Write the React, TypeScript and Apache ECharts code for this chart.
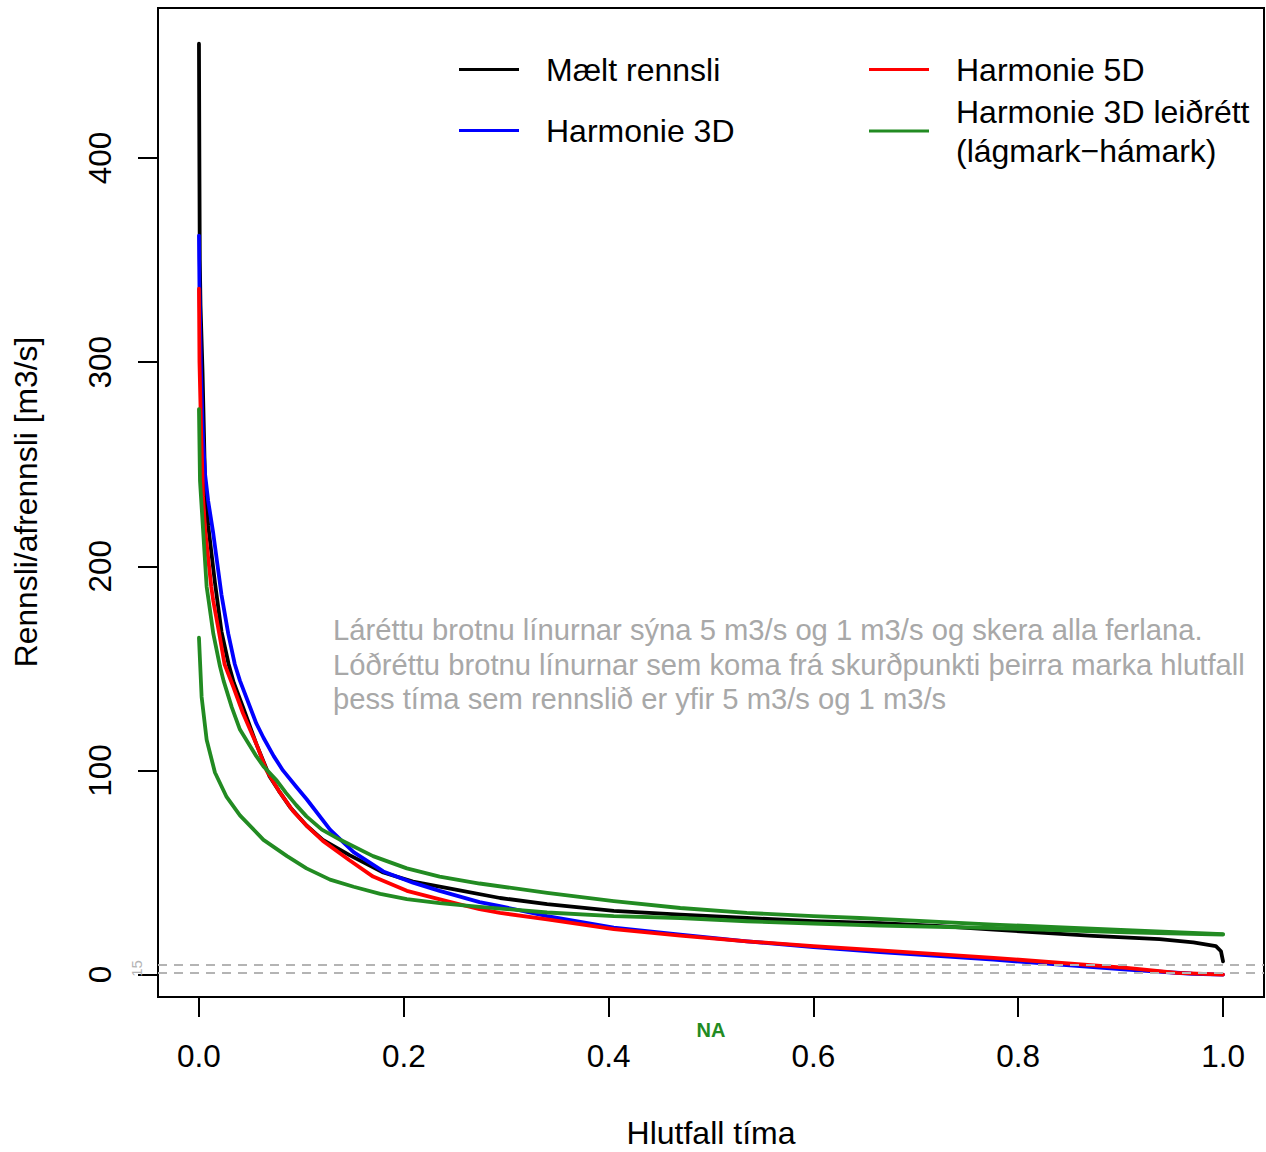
import { useEffect, useRef } from "react";
import * as echarts from "echarts";

// Flow duration curves: share of time (x) vs discharge/runoff in m3/s (y)
const xTicks = [0, 0.2, 0.4, 0.6, 0.8, 1.0];
const yTicks = [0, 100, 200, 300, 400];
const thresholdTicks = [1, 5];
const thresholdLines = [5, 1];

const maeltRennsli: [number, number][] = [
  [0, 456], [0.0004, 400], [0.0008, 350], [0.0015, 328], [0.0035, 295], [0.006, 240],
  [0.009, 220], [0.0156, 192], [0.022, 168], [0.029, 152], [0.034, 143], [0.043, 131],
  [0.056, 113], [0.069, 97], [0.078, 90], [0.089, 82], [0.105, 73], [0.121, 66],
  [0.147, 58.5], [0.18, 50], [0.209, 45.5], [0.252, 41.5], [0.294, 37.5], [0.34, 34.5],
  [0.405, 31.2], [0.47, 29.4], [0.535, 27.7], [0.6, 26.1], [0.665, 25.2], [0.72, 23.8],
  [0.776, 22], [0.873, 18.9], [0.938, 17.4], [0.971, 15.8], [0.993, 13.9], [0.998, 11.4],
  [1.0, 6.5],
];

const harmonie3D: [number, number][] = [
  [0, 362], [0.0005, 335], [0.002, 295], [0.004, 262], [0.006, 245], [0.009, 232],
  [0.014, 216], [0.022, 186], [0.0286, 167], [0.035, 152], [0.04, 144], [0.056, 123],
  [0.063, 116], [0.073, 107], [0.082, 100], [0.095, 92], [0.105, 86], [0.128, 71],
  [0.151, 60], [0.18, 50.5], [0.209, 45], [0.235, 41], [0.274, 35.5], [0.294, 33.5],
  [0.34, 28.6], [0.405, 23], [0.47, 19.6], [0.535, 16.3], [0.6, 13.5], [0.665, 11],
  [0.776, 7.3], [0.906, 2.4], [0.97, 0.4], [1.0, 0],
];

const harmonie5D: [number, number][] = [
  [0, 336], [0.0005, 300], [0.002, 268], [0.004, 234], [0.006, 218], [0.012, 190],
  [0.014, 183], [0.0205, 165], [0.025, 152], [0.0335, 141], [0.043, 128], [0.056, 113],
  [0.066, 100], [0.078, 90], [0.092, 80], [0.105, 73], [0.121, 65.5], [0.147, 56],
  [0.17, 48], [0.203, 41], [0.242, 36], [0.274, 32], [0.294, 30.2], [0.34, 27],
  [0.405, 22.2], [0.47, 19.1], [0.535, 16.3], [0.6, 13.9], [0.665, 11.8], [0.776, 8.2],
  [0.906, 3.3], [0.955, 0.8], [1.0, 0],
];

const leidrettHamark: [number, number][] = [
  [0, 277], [0.001, 242], [0.004, 218], [0.0075, 190], [0.0095, 183], [0.014, 167],
  [0.0205, 151], [0.024, 144], [0.032, 131], [0.04, 120], [0.056, 107], [0.063, 102],
  [0.076, 95], [0.085, 89], [0.095, 83], [0.105, 77.5], [0.12, 71], [0.138, 66],
  [0.17, 58], [0.203, 52], [0.235, 48], [0.274, 44.6], [0.34, 40], [0.405, 36],
  [0.47, 32.6], [0.535, 30.2], [0.6, 28.6], [0.645, 27.7], [0.776, 24.5], [0.906, 21.7],
  [1.0, 19.8],
];

const leidrettLagmark: [number, number][] = [
  [0, 165], [0.0026, 136], [0.0075, 115], [0.0156, 99], [0.027, 87], [0.04, 78],
  [0.063, 66], [0.086, 58], [0.105, 52], [0.128, 46.5], [0.151, 43], [0.177, 39.5],
  [0.203, 37], [0.235, 35], [0.274, 33.2], [0.34, 30.4], [0.405, 28.6], [0.47, 27.7],
  [0.535, 26.1], [0.6, 25], [0.665, 24], [0.776, 22.8], [0.906, 20.7], [1.0, 19.6],
];

const NAME_MAELT = "Mælt rennsli";
const NAME_3D = "Harmonie 3D";
const NAME_5D = "Harmonie 5D";
const NAME_LEID = "Harmonie 3D leiðrétt (lágmark−hámark)";

const FONT = "'Liberation Sans', Arial, Helvetica, sans-serif";
const GREEN = "#228B22";
const NOTE_GREY = "#A8A8A8";
const DASH_GREY = "#B4B4B4";

export default function App() {
  const ref = useRef<HTMLDivElement>(null);

  useEffect(() => {
    const chart = echarts.init(ref.current!, null, { renderer: "svg" });

    const line = (name: string, data: [number, number][], color: string, extra: any = {}) => ({
      type: "line",
      name,
      data,
      symbol: "none",
      showSymbol: false,
      smooth: false,
      clip: true,
      lineStyle: { color, width: 3.8, cap: "round", join: "round" },
      itemStyle: { color },
      emphasis: { disabled: true },
      ...extra,
    });

    const legendBase = {
      orient: "vertical",
      padding: 0,
      icon: "rect",
      itemWidth: 60,
      itemHeight: 3,
      selectedMode: false,
      textStyle: {
        fontFamily: FONT,
        fontSize: 32,
        lineHeight: 39,
        color: "#000",
        padding: [0, 0, 0, 22],
      },
    };

    chart.setOption({
      animation: false,
      textStyle: { fontFamily: FONT },
      grid: {
        left: 158,
        top: 8,
        width: 1106,
        height: 989,
        show: true,
        borderColor: "#000",
        borderWidth: 2,
        backgroundColor: "transparent",
        containLabel: false,
      },
      xAxis: {
        type: "value",
        min: -0.04,
        max: 1.04,
        axisLine: { show: false, onZero: false },
        splitLine: { show: false },
        axisTick: {
          show: true,
          length: 20,
          customValues: xTicks,
          lineStyle: { color: "#000", width: 2 },
        },
        axisLabel: {
          customValues: xTicks,
          formatter: (v: number) => v.toFixed(1),
          fontSize: 31.5,
          color: "#000",
          margin: 43,
          fontFamily: FONT,
        },
      },
      yAxis: [
        {
          type: "value",
          position: "left",
          min: -11,
          max: 473.5,
          axisLine: { show: false, onZero: false },
          splitLine: { show: false },
          axisTick: {
            show: true,
            length: 20,
            customValues: yTicks,
            lineStyle: { color: "#000", width: 2 },
          },
          axisLabel: {
            customValues: yTicks,
            rotate: 90,
            fontSize: 31.5,
            color: "#000",
            margin: 42,
            fontFamily: FONT,
          },
        },
        {
          type: "value",
          position: "left",
          offset: 0,
          min: -11,
          max: 473.5,
          axisLine: { show: false, onZero: false },
          splitLine: { show: false },
          axisTick: { show: false },
          axisLabel: {
            customValues: thresholdTicks,
            rotate: 90,
            fontSize: 15,
            hideOverlap: false,
            showMinLabel: true,
            showMaxLabel: true,
            color: DASH_GREY,
            margin: 14,
            fontFamily: FONT,
          },
        },
      ],
      legend: [
        { ...legendBase, data: [NAME_MAELT], left: 459, top: 50 },
        { ...legendBase, data: [NAME_3D], left: 459, top: 111 },
        { ...legendBase, data: [NAME_5D], left: 869, top: 50 },
        {
          ...legendBase,
          data: [NAME_LEID],
          left: 869,
          top: 92,
          formatter: (n: string) => n.replace(" (", "\n("),
        },
      ],
      series: [
        line(NAME_MAELT, maeltRennsli, "#000000", {
          markLine: {
            silent: true,
            symbol: "none",
            label: { show: false },
            lineStyle: { color: DASH_GREY, type: [9, 7], width: 2 },
            data: thresholdLines.map((v) => ({ yAxis: v })),
          },
        }),
        line(NAME_3D, harmonie3D, "#0000FF"),
        line(NAME_5D, harmonie5D, "#FF0000"),
        line(NAME_LEID, leidrettHamark, GREEN),
        line(NAME_LEID, leidrettLagmark, GREEN),
      ],
      graphic: [
        {
          type: "text",
          x: 711,
          y: 1133,
          style: {
            text: "Hlutfall tíma",
            fontSize: 32,
            fontFamily: FONT,
            fill: "#000",
            align: "center",
            verticalAlign: "middle",
          },
        },
        {
          type: "text",
          x: 26,
          y: 502,
          rotation: Math.PI / 2,
          style: {
            text: "Rennsli/afrennsli [m3/s]",
            fontSize: 31.8,
            fontFamily: FONT,
            fill: "#000",
            align: "center",
            verticalAlign: "middle",
          },
        },
        {
          type: "text",
          x: 333,
          y: 613,
          style: {
            text:
              "Láréttu brotnu línurnar sýna 5 m3/s og 1 m3/s og skera alla ferlana.\n" +
              "Lóðréttu brotnu línurnar sem koma frá skurðpunkti þeirra marka hlutfall\n" +
              "þess tíma sem rennslið er yfir 5 m3/s og 1 m3/s",
            fontSize: 29.2,
            lineHeight: 34.5,
            fontFamily: FONT,
            fill: NOTE_GREY,
            align: "left",
            verticalAlign: "top",
          },
        },
        {
          type: "text",
          x: 711,
          y: 1030,
          style: {
            text: "NA",
            fontSize: 20,
            fontWeight: "bold",
            fontFamily: FONT,
            fill: GREEN,
            align: "center",
            verticalAlign: "middle",
          },
        },
      ],
    });

    return () => chart.dispose();
  }, []);

  return (
    <div
      ref={ref}
      style={{ position: "fixed", left: 0, top: 0, width: 1266, height: 1152, background: "#fff" }}
    />
  );
}
